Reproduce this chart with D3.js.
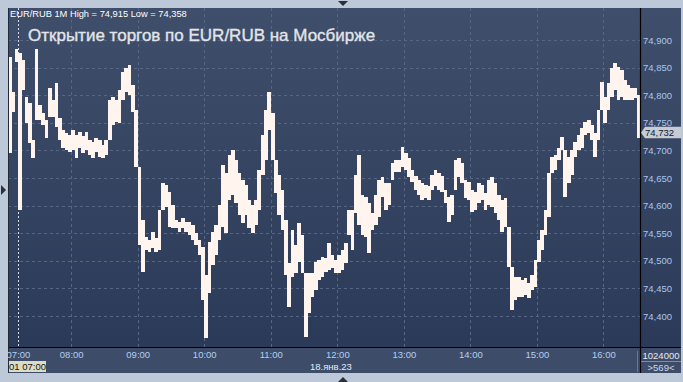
<!DOCTYPE html>
<html><head><meta charset="utf-8">
<script src="https://cdn.jsdelivr.net/npm/d3@7"></script>
<style>html,body{margin:0;padding:0;background:#bdc9d8;}svg{display:block;}</style>
</head><body>
<script>
// 3-minute bars, EUR/RUB 18 Jan 2023
const highs = [74.869,74.806,74.884,74.876,74.864,74.797,74.786,74.719,74.884,74.782,
74.768,74.755,74.813,74.791,74.822,74.759,74.737,74.732,74.728,74.737,
74.728,74.733,74.726,74.733,74.719,74.715,74.722,74.719,74.710,74.719,
74.791,74.797,74.791,74.809,74.842,74.849,74.855,74.819,74.773,74.670,
74.574,74.543,74.538,74.552,74.541,74.592,74.641,74.637,74.625,74.601,
74.574,74.570,74.578,74.570,74.570,74.565,74.550,74.538,74.525,74.474,
74.534,74.552,74.565,74.601,74.674,74.659,74.692,74.701,74.683,74.659,
74.646,74.637,74.610,74.601,74.610,74.665,74.728,74.773,74.806,74.768,
74.683,74.655,74.628,74.574,74.496,74.556,74.529,74.568,74.547,74.478,
74.478,74.478,74.498,74.501,74.507,74.505,74.532,74.511,74.501,74.511,
74.520,74.532,74.592,74.592,74.655,74.692,74.619,74.616,74.605,74.587,
74.619,74.646,74.652,74.641,74.641,74.677,74.683,74.683,74.706,74.695,
74.686,74.665,74.654,74.646,74.641,74.637,74.636,74.655,74.665,74.659,
74.654,74.628,74.616,74.619,74.683,74.686,74.677,74.646,74.643,74.628,
74.625,74.641,74.637,74.623,74.646,74.652,74.641,74.619,74.610,74.614,
74.561,74.489,74.471,74.471,74.465,74.469,74.460,74.474,74.501,74.538,
74.556,74.592,74.659,74.688,74.692,74.704,74.724,74.701,74.688,74.701,
74.715,74.728,74.741,74.751,74.755,74.746,74.732,74.773,74.824,74.797,
74.822,74.849,74.858,74.851,74.846,74.828,74.819,74.813,74.813,74.800];
const lows = [74.695,74.770,74.860,74.592,74.809,74.750,74.713,74.686,74.755,74.755,
74.746,74.722,74.761,74.761,74.742,74.719,74.704,74.701,74.697,74.701,
74.686,74.704,74.695,74.701,74.692,74.686,74.697,74.688,74.686,74.692,
74.719,74.746,74.751,74.750,74.791,74.806,74.800,74.770,74.670,74.529,
74.480,74.520,74.516,74.523,74.516,74.520,74.592,74.597,74.561,74.559,
74.559,74.552,74.559,74.552,74.547,74.538,74.529,74.511,74.429,74.360,
74.442,74.492,74.511,74.538,74.561,74.550,74.610,74.619,74.605,74.583,
74.568,74.583,74.559,74.550,74.565,74.592,74.655,74.683,74.737,74.683,
74.623,74.583,74.556,74.474,74.416,74.471,74.478,74.498,74.478,74.362,
74.405,74.434,74.447,74.465,74.471,74.480,74.483,74.487,74.478,74.478,
74.483,74.496,74.547,74.520,74.587,74.565,74.547,74.543,74.514,74.556,
74.565,74.579,74.616,74.592,74.601,74.646,74.661,74.661,74.670,74.665,
74.652,74.643,74.628,74.619,74.610,74.614,74.610,74.628,74.636,74.628,
74.625,74.605,74.570,74.583,74.628,74.652,74.641,74.614,74.610,74.588,
74.592,74.605,74.610,74.592,74.601,74.597,74.587,74.574,74.552,74.561,
74.489,74.411,74.429,74.434,74.434,74.438,74.433,74.447,74.453,74.498,
74.520,74.547,74.579,74.659,74.665,74.683,74.701,74.616,74.641,74.655,
74.688,74.701,74.704,74.728,74.732,74.719,74.688,74.719,74.773,74.750,
74.773,74.797,74.809,74.791,74.797,74.791,74.791,74.791,74.795,74.722];
const yTickValues = [74.40,74.45,74.50,74.55,74.60,74.65,74.70,74.75,74.80,74.85,74.90];
const yTickLabels = ["74,400","74,450","74,500","74,550","74,600","74,650","74,700","74,750","74,800","74,850","74,900"];
const timeLabels = ["07:00","08:00","09:00","10:00","11:00","12:00","13:00","14:00","15:00","16:00"];
const timeTickBars = [3,19,39,59,79,99,119,139,159,179];
const lastPrice = "74,732";
const lastValue = 74.732;
const headerText = "EUR/RUB 1M High = 74,915 Low = 74,358";
const titleText = "Открытие торгов по EUR/RUB на Мосбирже";
const dateLabel = "18.янв.23";
const cursorLabel = "01 07:00";
const volumeLabel = "1024000";
const countLabel = ">569<";

const W = 683, H = 382;
const L = 8, R = 640, T = 8, B = 347, PB = 373, PR = 681;
const N = highs.length;
const svg = d3.select("body").append("svg").attr("width", W).attr("height", H);
const defs = svg.append("defs");
const g1 = defs.append("linearGradient").attr("id","bg").attr("x1",0).attr("y1",0).attr("x2",0).attr("y2",1);
g1.append("stop").attr("offset","0%").attr("stop-color","#3f4e6a");
g1.append("stop").attr("offset","100%").attr("stop-color","#2b3a58");

svg.append("rect").attr("width",W).attr("height",H).attr("fill","#bdc9d8");
// panel
svg.append("rect").attr("x",L).attr("y",T).attr("width",PR-L).attr("height",B-T).attr("fill","url(#bg)");
svg.append("rect").attr("x",L).attr("y",B).attr("width",PR-L).attr("height",PB-B).attr("fill","#3d4c68");

const x = d3.scaleLinear().domain([0, N]).range([L, R]);
const y = d3.scaleLinear().domain([74.4, 74.9]).range([316, 40]);

// grid
const grid = svg.append("g").attr("stroke","#566684").attr("stroke-width",1).attr("stroke-dasharray","3,3");
yTickValues.forEach(v => grid.append("line").attr("x1",L).attr("x2",R).attr("y1",Math.round(y(v))+0.5).attr("y2",Math.round(y(v))+0.5));
timeTickBars.slice(1).forEach(b => grid.append("line").attr("y1",T).attr("y2",B).attr("x1",Math.round(x(b))+0.5).attr("x2",Math.round(x(b))+0.5));
// day separator
svg.append("line").attr("x1",Math.round(x(timeTickBars[0]))+0.5).attr("x2",Math.round(x(timeTickBars[0]))+0.5)
  .attr("y1",T).attr("y2",B).attr("stroke","#d8dde8").attr("stroke-width",1).attr("stroke-dasharray","2,2");

// bars
const pitch = x(1) - x(0);
svg.append("g").attr("shape-rendering","crispEdges").selectAll("rect").data(d3.range(N)).join("rect")
  .attr("x", i => x(i))
  .attr("width", pitch + 0.4)
  .attr("y", i => y(highs[i]))
  .attr("height", i => Math.max(1, y(lows[i]) - y(highs[i])))
  .attr("fill", "#fff4ee");

// frame lines
svg.append("line").attr("x1",L).attr("x2",PR).attr("y1",B+0.5).attr("y2",B+0.5).attr("stroke","#000").attr("stroke-width",1.2);
svg.append("line").attr("x1",R+0.5).attr("x2",R+0.5).attr("y1",T).attr("y2",PB).attr("stroke","#000").attr("stroke-width",1.2);
svg.append("line").attr("x1",L+0.5).attr("x2",L+0.5).attr("y1",T).attr("y2",PB).attr("stroke","#222a38").attr("stroke-width",1);
svg.append("line").attr("x1",637.5).attr("x2",637.5).attr("y1",B+4).attr("y2",PB-1).attr("stroke","#6a7890").attr("stroke-width",1);
svg.append("line").attr("x1",R+1).attr("x2",PR).attr("y1",361.5).attr("y2",361.5).attr("stroke","#7f8ca4").attr("stroke-width",1);

const font = "Liberation Sans, Arial, sans-serif";
// y axis
const yAxis = d3.axisRight(y).tickValues(yTickValues).tickSize(0).tickPadding(0)
  .tickFormat((d,i) => yTickLabels[i]);
const ya = svg.append("g").attr("transform",`translate(${R+3},0)`).call(yAxis);
ya.select(".domain").remove();
ya.selectAll("text").attr("fill","#a9c6ee").attr("font-family",font).attr("font-size","9.5px");

// x axis
const xAxis = d3.axisBottom(x).tickValues(timeTickBars).tickSize(0).tickPadding(0)
  .tickFormat((d,i) => timeLabels[i]);
const xa = svg.append("g").attr("transform",`translate(0,${B+4})`).call(xAxis);
xa.select(".domain").remove();
xa.selectAll("text").attr("fill","#b3cff4").attr("font-family",font).attr("font-size","9.5px");

// price tag
const py = y(lastValue);
svg.append("path").attr("d",`M${R+1},${py} L${R+5},${py-6} L${PR},${py-6} L${PR},${py+5.5} L${R+5},${py+5.5} Z`).attr("fill","#c5ccd5");
svg.append("text").attr("x",R+5).attr("y",py+3.6).text(lastPrice).attr("fill","#10182a").attr("font-family",font).attr("font-size","9.5px");

// texts
svg.append("text").attr("x",10).attr("y",17.3).text(headerText).attr("fill","#ffffff").attr("font-family",font).attr("font-size","9.3px");
svg.append("text").attr("x",28).attr("y",40.7).text(titleText).attr("fill","#e2e5ea")
  .attr("stroke","#e2e5ea").attr("stroke-width",0.35).attr("font-family",font).attr("font-size","17px");
svg.append("rect").attr("x",L+1).attr("y",361).attr("width",37).attr("height",11).attr("fill","#dcdcc4");
svg.append("text").attr("x",L+1).attr("y",370).text(cursorLabel).attr("fill","#151515").attr("font-family",font).attr("font-size","9.5px");
svg.append("text").attr("x",310).attr("y",369.5).text(dateLabel).attr("fill","#e6ebf4").attr("font-family",font).attr("font-size","9.5px");
svg.append("text").attr("x",661).attr("y",358.5).attr("text-anchor","middle").text(volumeLabel).attr("fill","#e6ebf4").attr("font-family",font).attr("font-size","9.5px");
svg.append("text").attr("x",661).attr("y",370.5).attr("text-anchor","middle").text(countLabel).attr("fill","#c8d8f0").attr("font-family",font).attr("font-size","9.5px");

// scroll arrows
svg.append("path").attr("d","M338,1 L348,1 L343,6 Z").attr("fill","#2a2f3a");
svg.append("path").attr("d","M1,185 L6,190 L1,195 Z").attr("fill","#2a2f3a");
svg.append("path").attr("d","M338,382 L348,382 L343,377 Z").attr("fill","#2a2f3a");
</script>
</body></html>
